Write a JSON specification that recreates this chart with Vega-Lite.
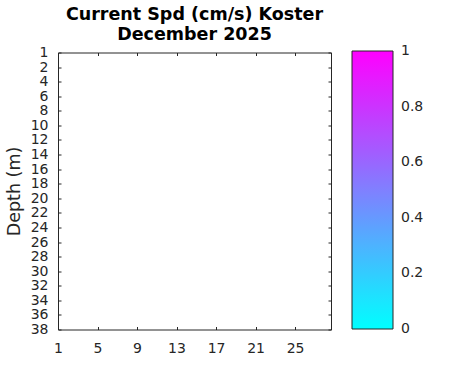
{
  "$schema": "https://vega.github.io/schema/vega-lite/v6.json",
  "width": 273,
  "height": 277,
  "autosize": "none",
  "padding": {"left": 58, "top": 52.5, "right": 140, "bottom": 41.5},
  "background": "white",
  "config": {
    "view": {"stroke": "#262626", "strokeWidth": 1},
    "axis": {
      "grid": false,
      "domain": false,
      "tickColor": "#262626",
      "tickSize": -3,
      "labelFont": "DejaVu Sans",
      "labelFontSize": 14,
      "labelColor": "#262626",
      "titleFont": "DejaVu Sans",
      "titleFontSize": 17.5,
      "titleFontWeight": "normal",
      "titleColor": "#262626"
    }
  },
  "title": {
    "text": ["Current Spd (cm/s) Koster", "December 2025"],
    "anchor": "middle",
    "font": "DejaVu Sans",
    "fontSize": 17.5,
    "fontWeight": "bold",
    "color": "#000000",
    "lineHeight": 20,
    "baseline": "bottom",
    "offset": 8,
    "dy": 24
  },
  "data": {"values": []},
  "layer": [
    {
      "mark": "rect",
      "encoding": {
        "x": {
          "field": "day",
          "type": "quantitative",
          "scale": {"domain": [1, 28.64], "nice": false, "zero": false},
          "axis": {"orient": "bottom", "values": [1, 5, 9, 13, 17, 21, 25], "title": null, "labelPadding": 15, "labelFlush": false, "labelOverlap": false}
        },
        "y": {
          "field": "depth",
          "type": "ordinal",
          "scale": {"type": "point", "domain": [1, 2, 4, 6, 8, 10, 12, 14, 16, 18, 20, 22, 24, 26, 28, 30, 32, 34, 36, 38], "padding": 0},
          "axis": {"orient": "left", "title": "Depth (m)", "labelPadding": 13, "labelOverlap": false, "labelBaseline": "middle", "titleAngle": -90, "titleX": -44, "titleY": 138.5, "titleBaseline": "middle", "titleAlign": "center"}
        },
        "color": {
          "field": "speed",
          "type": "quantitative",
          "scale": {"domain": [0, 1], "range": ["#00ffff", "#ff00ff"], "interpolate": "rgb"},
          "legend": {
            "orient": "none",
            "legendX": 294,
            "legendY": -1.5,
            "direction": "vertical",
            "title": null,
            "gradientLength": 278,
            "gradientThickness": 41,
            "gradientStrokeColor": "#262626",
            "gradientStrokeWidth": 1,
            "values": [0, 0.2, 0.4, 0.6, 0.8, 1],
            "format": ".1~f",
            "labelFont": "DejaVu Sans",
            "labelFontSize": 14,
            "labelColor": "#262626",
            "labelOffset": 8,
            "labelOverlap": false,
            "padding": 0,
            "encode": {"labels": {"update": {"baseline": {"value": "middle"}}}}
          }
        }
      }
    },
    {
      "mark": "rect",
      "encoding": {
        "x": {
          "field": "day",
          "type": "quantitative",
          "axis": {"orient": "top", "values": [1, 5, 9, 13, 17, 21, 25], "title": null, "labels": false}
        },
        "y": {
          "field": "depth",
          "type": "ordinal",
          "axis": {"orient": "right", "title": null, "labels": false}
        }
      }
    }
  ],
  "resolve": {"axis": {"x": "independent", "y": "independent"}}
}
